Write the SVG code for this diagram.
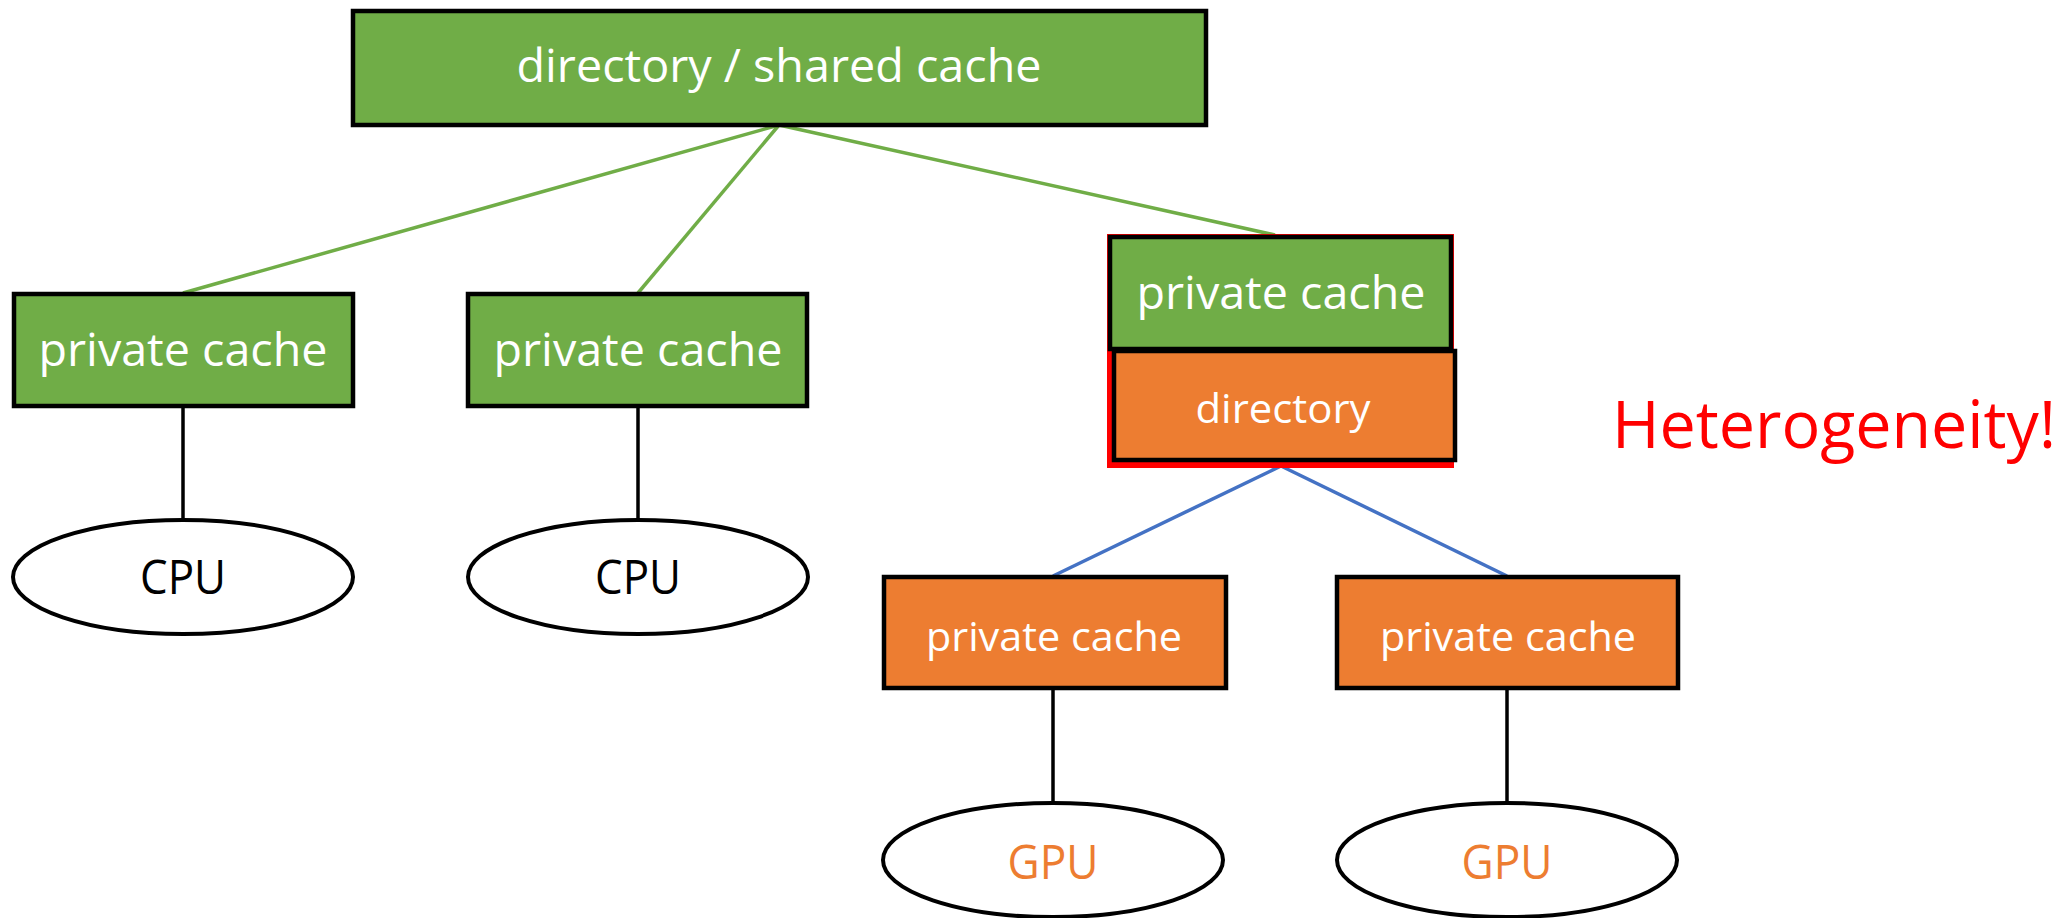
<svg xmlns="http://www.w3.org/2000/svg" width="2067" height="918" viewBox="0 0 2067 918">
<style>
.g{fill:#70AD47;stroke:#000;stroke-width:4.5}
.o{fill:#ED7D31;stroke:#000;stroke-width:4.5}
.e{fill:#fff;stroke:#000;stroke-width:4}
.t{font-family:"Open Sans","Liberation Sans",sans-serif;text-anchor:middle}
.w{fill:#fff}
</style>
<rect width="2067" height="918" fill="#fff"/>
<g id="connectors" fill="none" stroke-width="3.5">
<g stroke="#70AD47">
<line x1="779" y1="125" x2="183" y2="293"/>
<line x1="779" y1="125" x2="638" y2="293"/>
<line x1="779" y1="125" x2="1275" y2="235"/>
</g>
<g stroke="#4472C4">
<line x1="1281" y1="466" x2="1053" y2="576"/>
<line x1="1281" y1="466" x2="1507" y2="576"/>
</g>
<g stroke="#000">
<line x1="183" y1="406" x2="183" y2="520"/>
<line x1="638" y1="406" x2="638" y2="520"/>
<line x1="1053" y1="688" x2="1053" y2="803"/>
<line x1="1507" y1="688" x2="1507" y2="803"/>
</g>
</g>
<g id="shared">
<rect class="g" x="353" y="11" width="853" height="114"/>
<text class="t w" x="779" y="82" font-size="46" textLength="525" lengthAdjust="spacingAndGlyphs">directory / shared cache</text>
</g>
<g id="pc1">
<rect class="g" x="14" y="294" width="339" height="112"/>
<text class="t w" x="183" y="366" font-size="46" textLength="289" lengthAdjust="spacingAndGlyphs">private cache</text>
</g>
<g id="pc2">
<rect class="g" x="468" y="294" width="339" height="112"/>
<text class="t w" x="638" y="366" font-size="46" textLength="289" lengthAdjust="spacingAndGlyphs">private cache</text>
</g>
<g id="cpu1">
<ellipse class="e" cx="183" cy="577" rx="170" ry="57"/>
<text class="t" x="183" y="594" font-size="47" fill="#000" textLength="86" lengthAdjust="spacingAndGlyphs">CPU</text>
</g>
<g id="cpu2">
<ellipse class="e" cx="638" cy="577" rx="170" ry="57"/>
<text class="t" x="638" y="594" font-size="47" fill="#000" textLength="86" lengthAdjust="spacingAndGlyphs">CPU</text>
</g>
<g id="hetero-group">
<rect x="1107" y="234" width="347" height="234" fill="#FF0000"/>
<rect class="g" x="1110" y="237" width="341" height="112"/>
<text class="t w" x="1281" y="309" font-size="46" textLength="289" lengthAdjust="spacingAndGlyphs">private cache</text>
<rect class="o" x="1114" y="351" width="341" height="109"/>
<text class="t w" x="1283" y="423" font-size="41" textLength="175" lengthAdjust="spacingAndGlyphs">directory</text>
</g>
<g id="gpc1">
<rect class="o" x="884" y="577" width="342" height="111"/>
<text class="t w" x="1054" y="651" font-size="41" textLength="256" lengthAdjust="spacingAndGlyphs">private cache</text>
</g>
<g id="gpc2">
<rect class="o" x="1337" y="577" width="341" height="111"/>
<text class="t w" x="1508" y="651" font-size="41" textLength="256" lengthAdjust="spacingAndGlyphs">private cache</text>
</g>
<g id="gpu1">
<ellipse class="e" cx="1053" cy="860" rx="170" ry="57"/>
<text class="t" x="1053" y="879" font-size="47" fill="#ED7D31" textLength="91" lengthAdjust="spacingAndGlyphs">GPU</text>
</g>
<g id="gpu2">
<ellipse class="e" cx="1507" cy="860" rx="170" ry="57"/>
<text class="t" x="1507" y="879" font-size="47" fill="#ED7D31" textLength="91" lengthAdjust="spacingAndGlyphs">GPU</text>
</g>
<g id="label">
<text x="1612" y="448" font-family="Open Sans, Liberation Sans, sans-serif" font-size="65" fill="#FF0000" textLength="444" lengthAdjust="spacingAndGlyphs">Heterogeneity!</text>
</g>
</svg>
